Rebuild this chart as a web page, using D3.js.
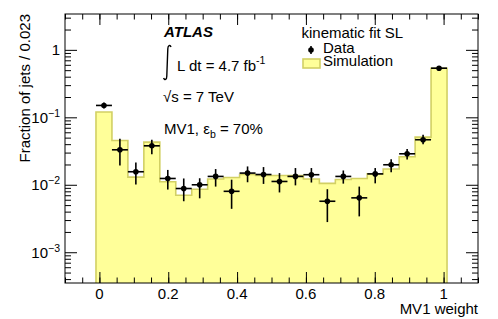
<!DOCTYPE html>
<html>
<head>
<meta charset="utf-8">
<script src="https://cdn.jsdelivr.net/npm/d3@7"></script>
<style>
  body { margin: 0; background: #fff; }
  svg { font-family: "Liberation Sans", Arial, sans-serif; }
  .axis path { display: none; }
  .axis line { stroke: #000; stroke-width: 1; }
</style>
</head>
<body>
<script>
// bins (MV1 weight), 22 bins from -0.01 to 1.01
const binEdges = [-0.0100, 0.0364, 0.0827, 0.1291, 0.1755, 0.2218, 0.2682, 0.3145, 0.3609, 0.4073, 0.4536,
                  0.5000, 0.5464, 0.5927, 0.6391, 0.6855, 0.7318, 0.7782, 0.8245, 0.8709, 0.9173, 0.9636, 1.0100];

// simulation histogram
const simValues = [0.120, 0.0454, 0.0130, 0.0429, 0.0111, 0.0070, 0.0086, 0.0122, 0.0128, 0.0142, 0.0137,
                   0.0137, 0.0137, 0.0122, 0.0105, 0.0120, 0.0124, 0.0145, 0.0171, 0.0260, 0.0509, 0.535];

// data points with error bars
const dataValues = [0.150, 0.033, 0.0156, 0.0378, 0.0124, 0.0088, 0.0100, 0.0133, 0.0080, 0.0149, 0.0142,
                    0.0112, 0.0133, 0.0141, 0.0057, 0.0133, 0.0064, 0.0145, 0.0198, 0.0288, 0.0465, 0.535];
const dataHigh = [0.166, 0.048, 0.0214, 0.0464, 0.0166, 0.0124, 0.0125, 0.0171, 0.0119, 0.0187, 0.0183,
                  0.0149, 0.0177, 0.0177, 0.0086, 0.0163, 0.0094, 0.0177, 0.0240, 0.0338, 0.055, 0.545];
const dataLow = [0.135, 0.0193, 0.0101, 0.0284, 0.0085, 0.0057, 0.0063, 0.0094, 0.0044, 0.0109, 0.0103,
                 0.0077, 0.0098, 0.0108, 0.0028, 0.0104, 0.0034, 0.0105, 0.0154, 0.0236, 0.040, 0.525];

// tick labels
const xTickLabels = [0, 0.2, 0.4, 0.6, 0.8, 1];
const yTickLabels = [{ v: 1, base: "1", exp: "" }, { v: 0.1, base: "10", exp: "\u22121" },
                     { v: 0.01, base: "10", exp: "\u22122" }, { v: 0.001, base: "10", exp: "\u22123" }];

const W = 498, H = 319;
const margin = { top: 14, right: 20, bottom: 36, left: 65 };
const width = W - margin.left - margin.right,
      height = H - margin.top - margin.bottom;
const fs = 15;

const svg = d3.select("body").append("svg")
    .attr("width", W)
    .attr("height", H);

const g = svg.append("g")
    .attr("transform", "translate(" + margin.left + "," + margin.top + ")");

const x = d3.scaleLinear().domain([-0.1, 1.1]).range([0, width]);
const y = d3.scaleLog().domain([3.5e-4, 3.4]).range([height, 0]);

const bins = simValues.map((v, i) => ({
    x0: binEdges[i], x1: binEdges[i + 1], sim: v,
    d: dataValues[i], hi: dataHigh[i], lo: dataLow[i]
}));

// simulation as filled step histogram
let stepPts = [[x(binEdges[0]), height]];
bins.forEach(b => {
    stepPts.push([x(b.x0), y(b.sim)]);
    stepPts.push([x(b.x1), y(b.sim)]);
});
stepPts.push([x(binEdges[binEdges.length - 1]), height]);

g.append("path")
    .attr("d", d3.line()(stepPts))
    .attr("fill", "#ffff99")
    .attr("stroke", "#d2d064")
    .attr("stroke-width", 1.6);

// data points
const pts = g.append("g").selectAll("g")
    .data(bins)
  .enter().append("g");

pts.append("line")
    .attr("x1", d => x(d.x0)).attr("x2", d => x(d.x1))
    .attr("y1", d => y(d.d)).attr("y2", d => y(d.d))
    .attr("stroke", "#000").attr("stroke-width", 1.6);

pts.append("line")
    .attr("x1", d => x((d.x0 + d.x1) / 2)).attr("x2", d => x((d.x0 + d.x1) / 2))
    .attr("y1", d => y(d.lo)).attr("y2", d => y(d.hi))
    .attr("stroke", "#000").attr("stroke-width", 1.6);

pts.append("circle")
    .attr("cx", d => x((d.x0 + d.x1) / 2))
    .attr("cy", d => y(d.d))
    .attr("r", 2.8)
    .attr("fill", "#000");

// axes with ticks pointing inward (ROOT style)
const xMinor = d3.range(-2, 23).map(i => i * 0.05);
const xMajor = xTickLabels;

g.append("g").attr("class", "axis")
    .attr("transform", "translate(0," + height + ")")
    .call(d3.axisBottom(x).tickValues(xMinor).tickSize(-5.5).tickFormat(""));
g.append("g").attr("class", "axis")
    .attr("transform", "translate(0," + height + ")")
    .call(d3.axisBottom(x).tickValues(xMajor).tickSize(-11).tickFormat(""));
g.append("g").attr("class", "axis")
    .call(d3.axisTop(x).tickValues(xMinor).tickSize(-5.5).tickFormat(""));
g.append("g").attr("class", "axis")
    .call(d3.axisTop(x).tickValues(xMajor).tickSize(-11).tickFormat(""));

const yMinor = [];
[1e-4, 1e-3, 1e-2, 1e-1, 1].forEach(dec => {
    for (let k = 2; k <= 9; k++) {
        const v = dec * k;
        if (v >= y.domain()[0] && v <= y.domain()[1]) yMinor.push(v);
    }
});
const yMajor = yTickLabels.map(t => t.v);

g.append("g").attr("class", "axis")
    .call(d3.axisLeft(y).tickValues(yMinor).tickSize(-6).tickFormat(""));
g.append("g").attr("class", "axis")
    .call(d3.axisLeft(y).tickValues(yMajor).tickSize(-12).tickFormat(""));
g.append("g").attr("class", "axis")
    .attr("transform", "translate(" + width + ",0)")
    .call(d3.axisRight(y).tickValues(yMinor).tickSize(-6).tickFormat(""));
g.append("g").attr("class", "axis")
    .attr("transform", "translate(" + width + ",0)")
    .call(d3.axisRight(y).tickValues(yMajor).tickSize(-12).tickFormat(""));

// frame
g.append("rect")
    .attr("width", width).attr("height", height)
    .attr("fill", "none").attr("stroke", "#000").attr("stroke-width", 1);

// tick labels
g.append("g").selectAll("text")
    .data(xTickLabels)
  .enter().append("text")
    .attr("x", d => x(d))
    .attr("y", height + 15.5)
    .attr("text-anchor", "middle")
    .attr("font-size", fs)
    .text(d => d);

const yl = g.append("g").selectAll("text")
    .data(yTickLabels)
  .enter().append("text")
    .attr("x", -5)
    .attr("y", d => y(d.v) + 5.5)
    .attr("text-anchor", "end")
    .attr("font-size", fs);
yl.append("tspan").text(d => d.base);
yl.append("tspan")
    .attr("dy", -6).attr("font-size", 10.5)
    .text(d => d.exp);

// axis titles
svg.append("text")
    .attr("x", W - margin.right)
    .attr("y", 314)
    .attr("text-anchor", "end")
    .attr("font-size", fs)
    .text("MV1 weight");

svg.append("text")
    .attr("transform", "translate(30," + margin.top + ") rotate(-90)")
    .attr("text-anchor", "end")
    .attr("font-size", fs)
    .text("Fraction of jets / 0.023");

// ATLAS labels
svg.append("text")
    .attr("x", 164).attr("y", 37)
    .attr("font-size", fs).attr("font-weight", "bold").attr("font-style", "italic")
    .text("ATLAS");

// integral sign
svg.append("path")
    .attr("d", "M171,47 C170,44.5 167.8,45 167.8,49 L166.8,76 C166.8,80 164.6,80.5 163.6,78")
    .attr("fill", "none")
    .attr("stroke", "#000")
    .attr("stroke-width", 1.4);

const lumi = svg.append("text")
    .attr("x", 177).attr("y", 70.5)
    .attr("font-size", fs);
lumi.append("tspan").text("L dt = 4.7 fb");
lumi.append("tspan").attr("dy", -7).attr("font-size", 10.5).text("-1");

svg.append("text")
    .attr("x", 163).attr("y", 101.5)
    .attr("font-size", fs)
    .text("\u221As = 7 TeV");

const mv1 = svg.append("text")
    .attr("x", 164).attr("y", 133.5)
    .attr("font-size", fs);
mv1.append("tspan").text("MV1, \u03B5");
mv1.append("tspan").attr("dy", 4).attr("font-size", 10.5).text("b");
mv1.append("tspan").attr("dy", -4).text(" = 70%");

// legend
svg.append("text")
    .attr("x", 301.5).attr("y", 37.5)
    .attr("font-size", fs)
    .text("kinematic fit SL");

svg.append("line")
    .attr("x1", 311).attr("x2", 311).attr("y1", 46).attr("y2", 54)
    .attr("stroke", "#000").attr("stroke-width", 1.6);
svg.append("circle")
    .attr("cx", 311).attr("cy", 50).attr("r", 2.8).attr("fill", "#000");
svg.append("text")
    .attr("x", 323).attr("y", 52.5)
    .attr("font-size", fs)
    .text("Data");

svg.append("rect")
    .attr("x", 303).attr("y", 59).attr("width", 17).attr("height", 9)
    .attr("fill", "#ffff99").attr("stroke", "#d2d064").attr("stroke-width", 1.6);
svg.append("text")
    .attr("x", 323).attr("y", 66)
    .attr("font-size", fs)
    .text("Simulation");
</script>
</body>
</html>
